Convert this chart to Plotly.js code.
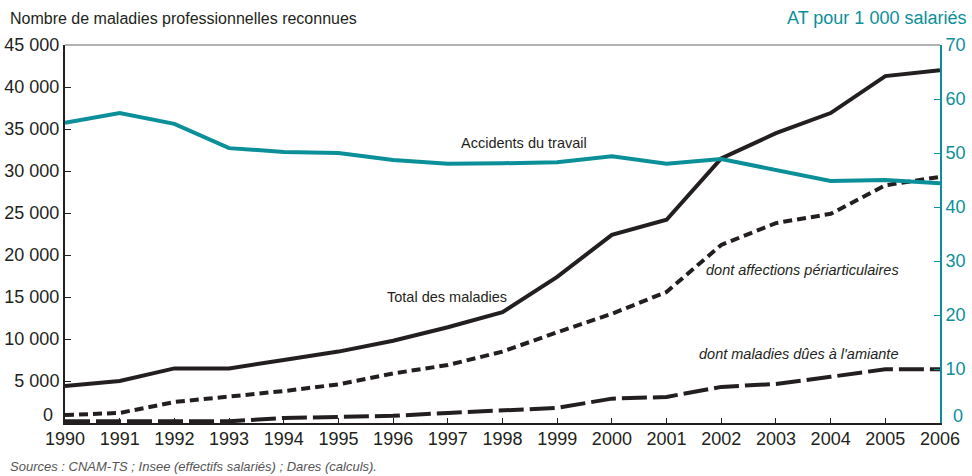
<!DOCTYPE html>
<html>
<head>
<meta charset="utf-8">
<script src="https://cdn.plot.ly/plotly-3.0.1.min.js"></script>
<style>html,body{margin:0;padding:0;background:#fff;}#chart{width:972px;height:476px;}</style>
</head>
<body>
<div id="chart"></div>
<script>
const years = [1990,1991,1992,1993,1994,1995,1996,1997,1998,1999,2000,2001,2002,2003,2004,2005,2006];
const totalMaladies = [4400,5000,6500,6500,7500,8500,9800,11400,13200,17400,22400,24200,31500,34500,36900,41300,42000];
const affectionsPeriarticulaires = [950,1200,2500,3100,3800,4600,5900,6900,8500,10800,13000,15600,21200,23800,24900,28300,29300];
const maladiesAmiante = [200,200,200,200,600,700,850,1200,1450,1800,2900,3100,4300,4650,5500,6400,6400];
const accidentsTravail = [55.6,57.4,55.4,50.9,50.2,50.0,48.7,48.0,48.1,48.3,49.4,48.0,48.9,46.9,44.8,45.0,44.4];
const leftTicks = [0,5000,10000,15000,20000,25000,30000,35000,40000,45000];
const leftTickLabels = ['','5 000','10 000','15 000','20 000','25 000','30 000','35 000','40 000','45 000'];
const rightTicks = [0,10,20,30,40,50,60,70];
const rightTickLabels = ['','10','20','30','40','50','60','70'];

const FONT = 'Liberation Sans Narrow, Arial Narrow, sans-serif';
const TEAL = '#0b8f99';
const DARK = '#231f20';

const traces = [
  {x: years, y: accidentsTravail, yaxis: 'y2', mode: 'lines', line: {color: TEAL, width: 4}, name: 'Accidents du travail'},
  {x: years, y: totalMaladies, mode: 'lines', line: {color: DARK, width: 4}, name: 'Total des maladies'},
  {x: years, y: affectionsPeriarticulaires, mode: 'lines', line: {color: DARK, width: 4, dash: '9px,5px'}, name: 'dont affections périarticulaires'},
  {x: years, y: maladiesAmiante, mode: 'lines', line: {color: DARK, width: 4, dash: '25px,6px'}, name: "dont maladies dûes à l'amiante"}
];

const layout = {
  width: 972, height: 476,
  margin: {l: 65, r: 32, t: 45, b: 53},
  paper_bgcolor: '#fff', plot_bgcolor: '#fff',
  showlegend: false,
  font: {family: FONT, size: 17, color: DARK},
  xaxis: {
    range: [1990, 2006], tickvals: years, ticktext: years.map(String),
    showgrid: false, zeroline: false, showline: true, linecolor: DARK, linewidth: 2,
    ticks: 'inside', ticklen: 5, tickcolor: DARK, tickwidth: 1,
    ticklabelstandoff: -2,
    tickfont: {family: FONT, size: 18, color: DARK}
  },
  yaxis: {
    range: [0, 45000], tickvals: leftTicks, ticktext: leftTickLabels,
    showgrid: false, zeroline: false, showline: true, linecolor: DARK, linewidth: 2,
    ticks: 'inside', ticklen: 6, tickcolor: DARK, tickwidth: 1,
    tickfont: {family: FONT, size: 18, color: DARK}
  },
  yaxis2: {
    range: [0, 70], tickvals: rightTicks, ticktext: rightTickLabels, overlaying: 'y', side: 'right',
    showgrid: false, zeroline: false, showline: true, linecolor: TEAL, linewidth: 2,
    ticks: 'inside', ticklen: 6, tickcolor: TEAL, tickwidth: 1,
    tickfont: {family: FONT, size: 18, color: TEAL}
  },
  shapes: [
    {type: 'line', xref: 'paper', yref: 'paper', x0: 0, x1: 1, y0: 1, y1: 1, line: {color: '#999', width: 1.5}}
  ],
  annotations: [
    {xref: 'paper', yref: 'paper', x: -0.0651, y: 1.071, xanchor: 'left', yanchor: 'middle', showarrow: false,
     text: 'Nombre de maladies professionnelles reconnues', font: {family: FONT, size: 16, color: DARK}},
    {xref: 'paper', yref: 'paper', x: 1.032, y: 1.071, xanchor: 'right', yanchor: 'middle', showarrow: false,
     text: 'AT pour 1 000 salariés', font: {family: FONT, size: 18, color: TEAL}},
    {xref: 'paper', yref: 'paper', x: -0.0651, y: -0.115, xanchor: 'left', yanchor: 'middle', showarrow: false,
     text: '<i>Sources : CNAM-TS ; Insee (effectifs salariés) ; Dares (calculs).</i>', font: {family: FONT, size: 13, color: '#555'}},
    {xref: 'paper', yref: 'y', x: -0.012, y: 900, xanchor: 'right', yanchor: 'middle', showarrow: false,
     text: '0', font: {family: FONT, size: 18, color: DARK}},
    {xref: 'paper', yref: 'y2', x: 1.012, y: 1.3, xanchor: 'left', yanchor: 'middle', showarrow: false,
     text: '0', font: {family: FONT, size: 18, color: TEAL}},
    {xref: 'x', yref: 'y2', x: 1998.39, y: 51.85, showarrow: false,
     text: 'Accidents du travail', font: {family: FONT, size: 14.5, color: DARK}},
    {xref: 'x', yref: 'y', x: 1996.98, y: 15000, showarrow: false,
     text: 'Total des maladies', font: {family: FONT, size: 14.5, color: DARK}},
    {xref: 'x', yref: 'y', x: 2003.48, y: 18200, showarrow: false,
     text: '<i>dont affections périarticulaires</i>', font: {family: FONT, size: 14.5, color: DARK}},
    {xref: 'x', yref: 'y', x: 2003.42, y: 8200, showarrow: false,
     text: "<i>dont maladies dûes à l'amiante</i>", font: {family: FONT, size: 14.5, color: DARK}}
  ]
};

Plotly.newPlot('chart', traces, layout, {displayModeBar: false, staticPlot: true});
</script>
</body>
</html>
